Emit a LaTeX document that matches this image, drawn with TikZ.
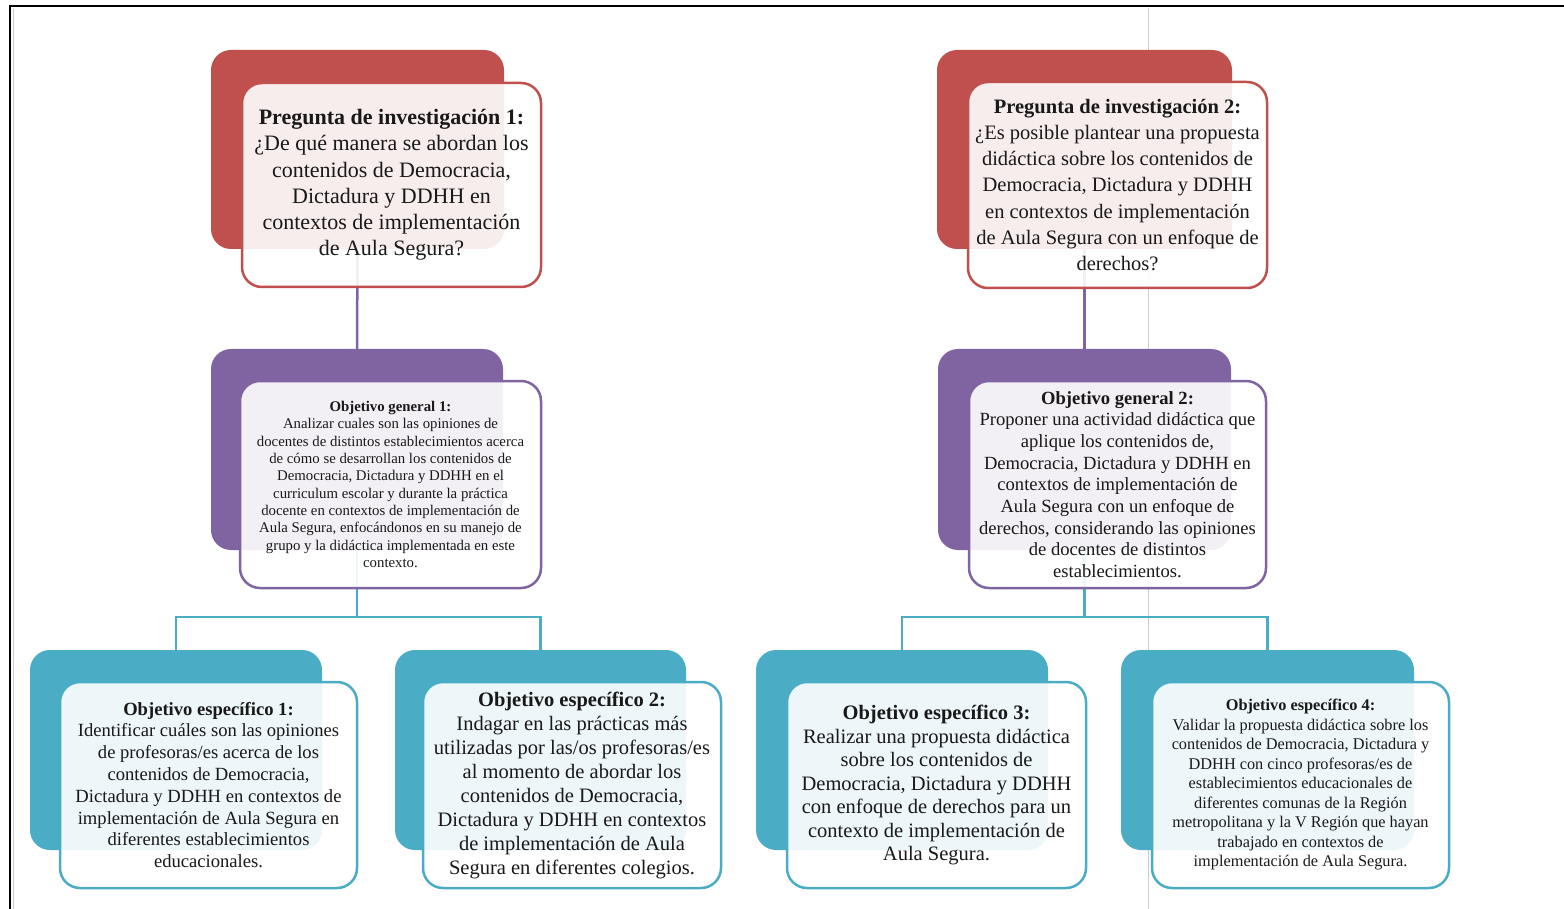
\documentclass[tikz,border=0pt]{standalone}
\usepackage{fontspec}
\setmainfont{Liberation Serif}
\definecolor{cred}{HTML}{C0504D}
\definecolor{cpurple}{HTML}{8064A2}
\definecolor{cteal}{HTML}{4BACC6}
\tikzset{
  backbox/.style={rectangle, rounded corners=20pt, fill=#1, draw=none, inner sep=0pt},
  frontbox/.style={rectangle, rounded corners=20pt, draw=#1, line width=2.5pt, fill=white,
    fill opacity=0.9, text opacity=1, draw opacity=1, inner sep=0pt, align=center, text=black!90},
  pline/.style={draw=cpurple, line width=2.5pt},
  tline/.style={draw=cteal, line width=2.5pt},
}
\begin{document}
\begin{tikzpicture}[x=1pt,y=-1pt]
\useasboundingbox (0,0) rectangle (1564,909);
\fill[white] (0,0) rectangle (1564,909);
% page artefacts
\draw[black!20, line width=1pt] (1148,8) -- (1148,909);
\draw[black!20, line width=1pt] (13.5,9) -- (13.5,909);
\draw[black, line width=2.2pt] (10,909) -- (10,6) -- (1564,6);

% back boxes
\node[backbox=cred, minimum width=293pt, minimum height=199pt] (q1b) at (357.5,149.5) {};
\node[backbox=cred, minimum width=295pt, minimum height=199pt] (q2b) at (1084.5,149.5) {};
\node[backbox=cpurple, minimum width=292pt, minimum height=201pt] (g1b) at (357,449.5) {};
\node[backbox=cpurple, minimum width=293pt, minimum height=201pt] (g2b) at (1084.5,449.5) {};
\node[backbox=cteal, minimum width=292pt, minimum height=200pt] (s1b) at (176,750) {};
\node[backbox=cteal, minimum width=291pt, minimum height=200pt] (s2b) at (540.5,750) {};
\node[backbox=cteal, minimum width=292pt, minimum height=200pt] (s3b) at (902,750) {};
\node[backbox=cteal, minimum width=293pt, minimum height=200pt] (s4b) at (1267.5,750) {};

% connectors
\draw[pline] (q1b.south) -- (g1b.north);
\draw[pline] (q2b.south) -- (g2b.north);
\coordinate (j1) at (357,617);
\coordinate (j2) at (1084.5,617);
\draw[tline] (g1b.south) -- (j1);
\draw[tline] (j1) -| (s1b.north);
\draw[tline] (j1) -| (s2b.north);
\draw[tline] (g2b.south) -- (j2);
\draw[tline] (j2) -| (s3b.north);
\draw[tline] (j2) -| (s4b.north);

% front boxes
\node[frontbox=cred, minimum width=299pt, minimum height=204pt,
  font=\fontsize{22}{26.2}\selectfont] (q1) at (391.5,185) {\textbf{Pregunta de investigación 1:}\\
¿De qué manera se abordan los\\
contenidos de Democracia,\\
Dictadura y DDHH en\\
contextos de implementación\\
de Aula Segura?};

\node[frontbox=cred, minimum width=299pt, minimum height=206pt,
  font=\fontsize{20.5}{26.3}\selectfont] (q2) at (1117.5,185) {\textbf{Pregunta de investigación 2:}\\
¿Es posible plantear una propuesta\\
didáctica sobre los contenidos de\\
Democracia, Dictadura y DDHH\\
en contextos de implementación\\
de Aula Segura con un enfoque de\\
derechos?};

\node[frontbox=cpurple, minimum width=301pt, minimum height=207pt,
  font=\fontsize{14.8}{17.3}\selectfont] (g1) at (390.5,484.5) {\textbf{Objetivo general 1:}\\
Analizar cuales son las opiniones de\\
docentes de distintos establecimientos acerca\\
de cómo se desarrollan los contenidos de\\
Democracia, Dictadura y DDHH en el\\
curriculum escolar y durante la práctica\\
docente en contextos de implementación de\\
Aula Segura, enfocándonos en su manejo de\\
grupo y la didáctica implementada en este\\
contexto.};

\node[frontbox=cpurple, minimum width=297pt, minimum height=207pt,
  font=\fontsize{18.6}{21.7}\selectfont] (g2) at (1117.5,484.5) {\textbf{Objetivo general 2:}\\
Proponer una actividad didáctica que\\
aplique los contenidos de,\\
Democracia, Dictadura y DDHH en\\
contextos de implementación de\\
Aula Segura con un enfoque de\\
derechos, considerando las opiniones\\
de docentes de distintos\\
establecimientos.};

\node[frontbox=cteal, minimum width=297pt, minimum height=206pt,
  font=\fontsize{18.6}{21.8}\selectfont] (s1) at (208.5,785) {\textbf{Objetivo específico 1:}\\
Identificar cuáles son las opiniones\\
de profesoras/es acerca de los\\
contenidos de Democracia,\\
Dictadura y DDHH en contextos de\\
implementación de Aula Segura en\\
diferentes establecimientos\\
educacionales.};

\node[frontbox=cteal, minimum width=298pt, minimum height=206pt,
  font=\fontsize{20.5}{24}\selectfont] (s2) at (572,785) {\textbf{Objetivo específico 2:}\\
Indagar en las prácticas más\\
utilizadas por las/os profesoras/es\\
al momento de abordar los\\
contenidos de Democracia,\\
Dictadura y DDHH en contextos\\
de implementación de Aula\\
Segura en diferentes colegios.};

\node[frontbox=cteal, minimum width=299pt, minimum height=206pt,
  font=\fontsize{20.5}{23.5}\selectfont] (s3) at (936.5,785) {\textbf{Objetivo específico 3:}\\
Realizar una propuesta didáctica\\
sobre los contenidos de\\
Democracia, Dictadura y DDHH\\
con enfoque de derechos para un\\
contexto de implementación de\\
Aula Segura.};

\node[frontbox=cteal, minimum width=297pt, minimum height=206pt,
  font=\fontsize{16.3}{19.5}\selectfont] (s4) at (1300.5,785) {\textbf{Objetivo específico 4:}\\
Validar la propuesta didáctica sobre los\\
contenidos de Democracia, Dictadura y\\
DDHH con cinco profesoras/es de\\
establecimientos educacionales de\\
diferentes comunas de la Región\\
metropolitana y la V Región que hayan\\
trabajado en contextos de\\
implementación de Aula Segura.};
\end{tikzpicture}
\end{document}
